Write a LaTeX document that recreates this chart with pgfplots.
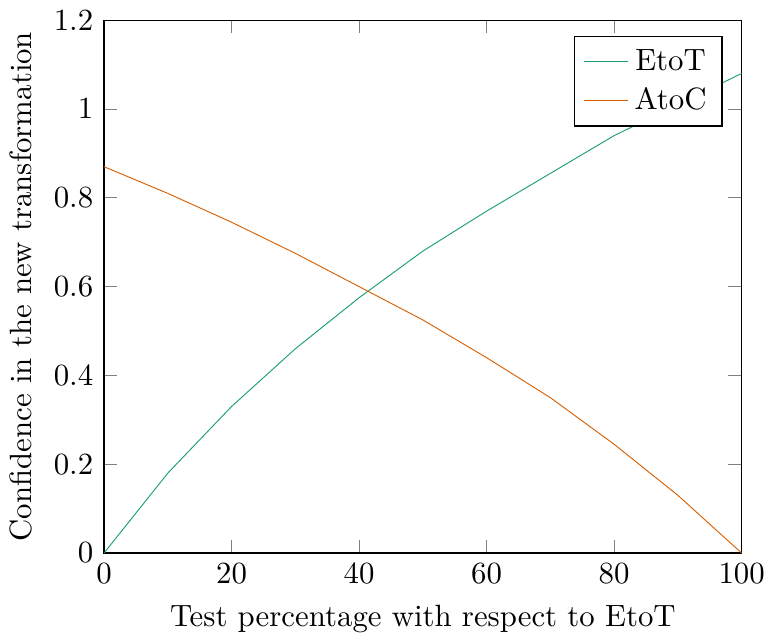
\documentclass[border=0pt]{standalone}
\usepackage{pgfplots}
\pgfplotsset{compat=1.18}
\definecolor{cgreen}{RGB}{27,158,119}
\definecolor{corange}{RGB}{217,95,2}
\begin{document}
\begin{tikzpicture}
\begin{axis}[
  width=252pt, height=218pt,
  xmin=0, xmax=100, ymin=0, ymax=1.2,
  xlabel={Test percentage with respect to EtoT},
  ylabel={Confidence in the new transformation},
  legend pos=north east,
  legend image code/.code={\draw[mark repeat=2,mark phase=2] plot coordinates {(0cm,0cm) (0.25cm,0cm) (0.5cm,0cm)};},
]
\addplot[cgreen, line width=0.3pt] coordinates {(0,0) (10,0.18) (20,0.33) (30,0.46) (40,0.575) (50,0.68) (60,0.77) (70,0.855) (80,0.94) (90,1.01) (100,1.08)};
\addlegendentry{EtoT}
\addplot[corange, line width=0.3pt] coordinates {(0,0.87) (10,0.81) (20,0.745) (30,0.675) (40,0.60) (50,0.525) (60,0.44) (70,0.35) (80,0.245) (90,0.13) (100,0)};
\addlegendentry{AtoC}
\end{axis}
\end{tikzpicture}
\end{document}
